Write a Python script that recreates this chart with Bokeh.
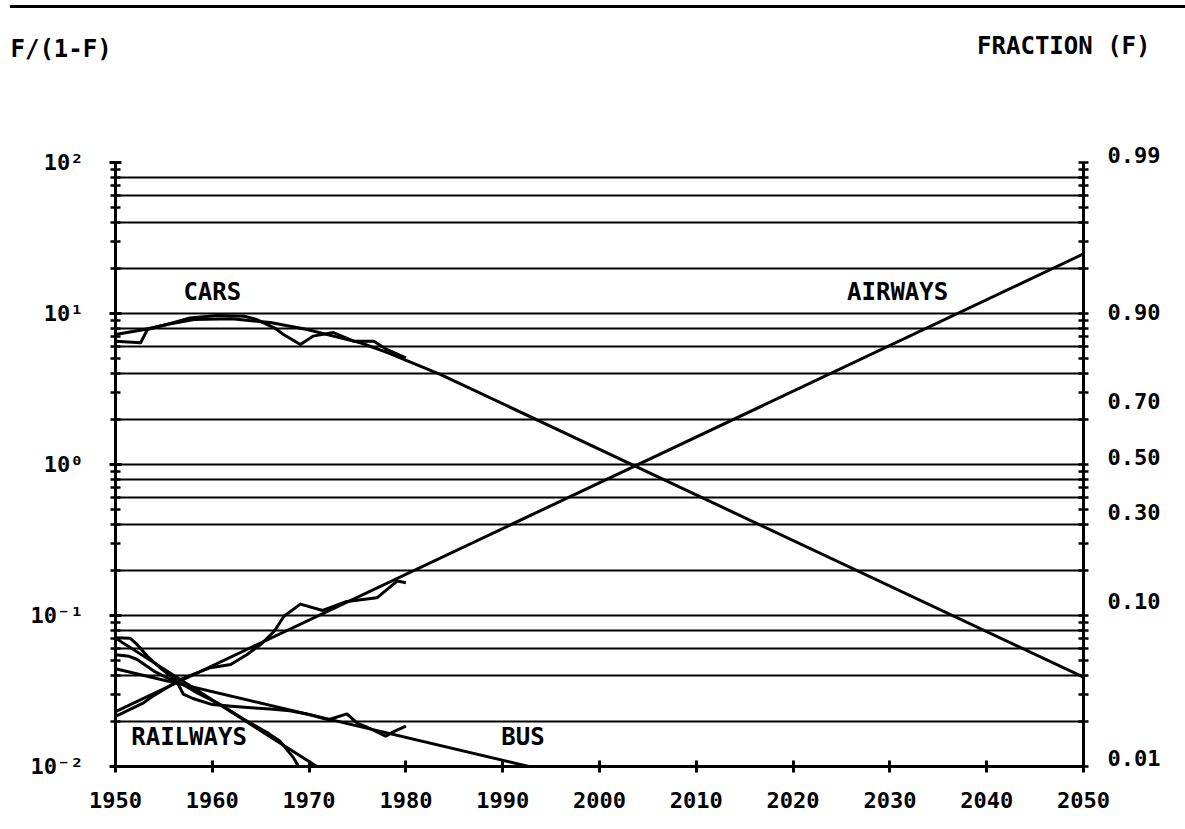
from bokeh.plotting import figure
from bokeh.models import FixedTicker, LogAxis, Div
from bokeh.layouts import column
from bokeh.core.properties import value
from bokeh.embed import file_html
from bokeh.resources import INLINE

FONT = "DejaVu Sans Mono"

# ---- data: F/(1-F) values ----
cars_years = [1950, 1952.6, 1953.3, 1955.3, 1957.7, 1960.5, 1963.3, 1964.6, 1966.4,
              1967.4, 1969.1, 1970.4, 1972.5, 1974.6, 1976.7, 1978.0, 1980.0]
cars_vals = [6.56, 6.40, 7.83, 8.45, 9.33, 9.70, 9.59, 9.12, 8.04,
             7.24, 6.24, 7.08, 7.48, 6.56, 6.56, 5.78, 5.09]

cars_fit_years = [1950, 1953, 1955.3, 1958.1, 1962, 1966, 1969.8, 1972.5, 1975.3,
                  1978.1, 1983.6, 2050]
cars_fit_vals = [7.26, 7.83, 8.45, 9.12, 9.23, 8.71, 7.83, 7.08, 6.40, 5.50, 3.94, 0.039]

air_years = [1950, 1952.9, 1953.6, 1956.7, 1959.8, 1961.9, 1963.6, 1965, 1966.4,
             1967.4, 1969.1, 1971.4, 1973.9, 1977, 1979.1, 1980]
air_vals = [0.0215, 0.0264, 0.0285, 0.0377, 0.0451, 0.0473, 0.0552, 0.0643, 0.0787,
            0.0989, 0.119, 0.108, 0.124, 0.131, 0.169, 0.165]
air_fit_years = [1950, 2050]
air_fit_vals = [0.0231, 24.8]

rail_years = [1950, 1951.5, 1952.2, 1953.3, 1954.6, 1956.4, 1958.4, 1960.8, 1963.3,
              1965.7, 1967.0, 1968.4, 1968.9]
rail_vals = [0.0711, 0.0708, 0.0646, 0.0537, 0.0451, 0.0367, 0.0308, 0.0258, 0.0205,
             0.0167, 0.0147, 0.0114, 0.0100]
rail_fit_years = [1950, 1970.8]
rail_fit_vals = [0.0708, 0.0100]

bus_years = [1950, 1951.4, 1952.2, 1954, 1956.4, 1957, 1958, 1960, 1962, 1964, 1966,
             1968, 1970, 1972, 1973.9, 1975, 1976, 1977.9, 1978.8, 1980]
bus_vals = [0.0550, 0.0537, 0.0513, 0.0427, 0.0358, 0.0302, 0.0282, 0.0257, 0.0251,
            0.0245, 0.0240, 0.0234, 0.0221, 0.0204, 0.0223, 0.0193, 0.0182, 0.0159,
            0.0171, 0.0185]
bus_fit_years = [1950, 1992.7]
bus_fit_vals = [0.0444, 0.0100]

# series labels
series_names = ["CARS", "AIRWAYS", "RAILWAYS", "BUS"]
series_label_x = [1960.0, 2030.8, 1957.6, 1992.1]
series_label_y = [13.8, 13.8, 0.0156, 0.0156]

# axes
x_ticks = [1950, 1960, 1970, 1980, 1990, 2000, 2010, 2020, 2030, 2040, 2050]
decades = [0.01, 0.1, 1, 10, 100]
decade_labels = ["10\u207b\u00b2", "10\u207b\u00b9", "10\u2070", "10\u00b9", "10\u00b2"]
fraction_labels = [0.99, 0.90, 0.70, 0.50, 0.30, 0.10, 0.01]
fraction_texts = ["0.99", "0.90", "0.70", "0.50", "0.30", "0.10", "0.01"]
grid_mults = [1, 2, 4, 6, 8]

left_title = "F/(1-F)"
right_title = "FRACTION (F)"

W = 1180

# ---- main figure ----
p = figure(width=W, height=813, x_range=(1950, 2050), y_range=(0.01, 100),
           y_axis_type="log", output_backend="svg", toolbar_location=None,
           min_border_left=115, min_border_right=W - 1083, min_border_top=154,
           min_border_bottom=55)
p.outline_line_color = None
p.background_fill_color = "white"
p.border_fill_color = "white"

minor = [m * d for d in decades[:-1] for m in range(1, 10)] + [100]
grid_vals = [m * d for d in decades[:-1] for m in grid_mults] + [100]

p.xgrid.visible = False
p.ygrid.ticker = FixedTicker(ticks=grid_vals)
p.ygrid.grid_line_color = "black"
p.ygrid.grid_line_width = 2.2
p.ygrid.grid_line_alpha = 1.0


def style_axis(ax):
    ax.axis_line_color = "black"
    ax.axis_line_width = 3
    ax.major_tick_line_color = "black"
    ax.minor_tick_line_color = "black"
    ax.major_tick_line_width = 3
    ax.minor_tick_line_width = 2.5
    ax.major_label_text_font = FONT
    ax.major_label_text_font_style = "bold"
    ax.major_label_text_font_size = "22px"
    ax.major_label_text_color = "black"


# bottom axis
xa = p.xaxis[0]
xa.ticker = FixedTicker(ticks=x_ticks)
style_axis(xa)
xa.major_tick_in = 6
xa.major_tick_out = 6
xa.minor_tick_in = 0
xa.minor_tick_out = 0
xa.major_label_standoff = 19

# left axis
ya = p.yaxis[0]
ya.ticker = FixedTicker(ticks=decades, minor_ticks=minor)
style_axis(ya)
ya.major_tick_in = 6
ya.major_tick_out = 6
ya.minor_tick_in = 5
ya.minor_tick_out = 5
ya.major_label_standoff = 26
ya.major_label_overrides = {d: t for d, t in zip(decades, decade_labels)}

# right axis (fraction F): tick marks only, labels sit just above their ticks
ra = LogAxis(ticker=FixedTicker(ticks=[], minor_ticks=minor))
style_axis(ra)
ra.minor_tick_in = 5
ra.minor_tick_out = 5
p.add_layout(ra, "right")

right_ticks = [f / (1 - f) for f in fraction_labels]
p.text(x=[2050] * len(right_ticks), y=right_ticks, text=fraction_texts,
       x_offset=24, y_offset=-8, text_font=value(FONT), text_font_style="bold",
       text_font_size="22px", text_align="left", text_baseline="middle",
       text_color="black", level="overlay")

# ---- series ----
LW = 3
for xs, ys in [(cars_years, cars_vals), (cars_fit_years, cars_fit_vals),
               (air_years, air_vals), (air_fit_years, air_fit_vals),
               (rail_years, rail_vals), (rail_fit_years, rail_fit_vals),
               (bus_years, bus_vals), (bus_fit_years, bus_fit_vals)]:
    p.line(xs, ys, line_color="black", line_width=LW, line_join="round")

p.text(x=series_label_x, y=series_label_y, text=series_names,
       text_font=value(FONT), text_font_style="bold", text_font_size="24px",
       text_align="center", text_baseline="middle", text_color="black")

# ---- axis titles above the frame corners ----
p.text(x=[1950], y=[100], text=[left_title], x_offset=-105, y_offset=-114,
       text_font=value(FONT), text_font_style="bold", text_font_size="24px",
       text_align="left", text_baseline="middle", text_color="black", level="overlay")
p.text(x=[2050], y=[100], text=[right_title], x_offset=67, y_offset=-117,
       text_font=value(FONT), text_font_style="bold", text_font_size="24px",
       text_align="right", text_baseline="middle", text_color="black", level="overlay")

rule = Div(width=1175, height=3, styles={"background-color": "black"}, margin=(5, 0, 0, 10))
layout = column(rule, p, spacing=0)

open("out.html", "w").write(file_html(layout, INLINE))
